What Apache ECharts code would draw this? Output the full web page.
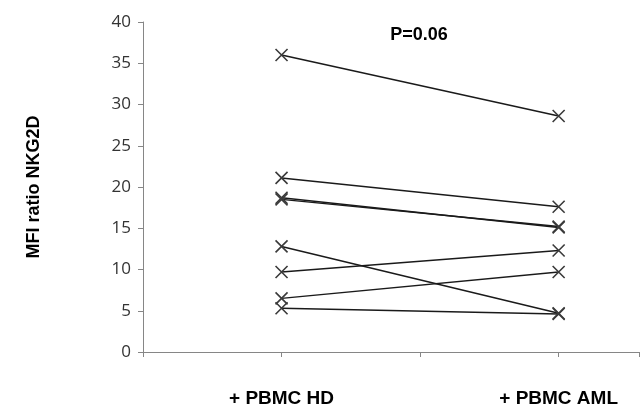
<!DOCTYPE html>
<html>
<head>
<meta charset="utf-8">
<script src="https://cdn.jsdelivr.net/npm/echarts@6/dist/echarts.min.js"></script>
<style>html,body{margin:0;padding:0;background:#fff}#c{width:642px;height:420px}</style>
</head>
<body>
<div id="c"></div>
<script>
var categories = ['+ PBMC HD', '+ PBMC AML'];
var categoryPos = [1, 3];
var hdValues  = [36.0, 21.1, 18.7, 18.5, 12.8, 9.7, 6.5, 5.3];
var amlValues = [28.6, 17.6, 15.1, 15.2, 4.7, 12.3, 9.7, 4.6];
var yTicks = [0, 5, 10, 15, 20, 25, 30, 35, 40];
var pLabel = 'P=0.06';
var yTitle = 'MFI ratio NKG2D';

var chart = echarts.init(document.getElementById('c'), null, {renderer: 'canvas'});
var series = hdValues.map(function (v, i) {
  return {
    type: 'line',
    data: [[categoryPos[0], v], [categoryPos[1], amlValues[i]]],
    symbol: 'path://M0,0L10,10M10,0L0,10',
    symbolSize: 12,
    showSymbol: true,
    lineStyle: {color: '#1a1a1a', width: 1.5},
    itemStyle: {color: 'transparent', borderColor: '#3a3a3a', borderWidth: 1.6},
    emphasis: {disabled: true},
    silent: true,
    z: 2
  };
});

chart.setOption({
  animation: false,
  backgroundColor: '#fff',
  title: {
    text: pLabel,
    left: 414, top: 21,
    textAlign: 'center',
    textStyle: {fontFamily: 'Liberation Sans', fontWeight: 'bold', fontSize: 18, color: '#000'}
  },
  grid: {left: 143, right: 0, top: 22, bottom: 68},
  xAxis: {
    type: 'value',
    min: 0, max: 3.58, interval: 1,
    splitLine: {show: false},
    axisLine: {lineStyle: {color: '#868686', width: 1}},
    axisTick: {length: 5, lineStyle: {color: '#868686'}},
    axisLabel: {
      margin: 37,
      fontFamily: 'Liberation Sans', fontWeight: 'bold', fontSize: 19, color: '#000',
      formatter: function (v) {
        var idx = categoryPos.indexOf(v);
        return idx >= 0 ? categories[idx] : '';
      }
    }
  },
  yAxis: {
    type: 'value',
    min: yTicks[0], max: yTicks[yTicks.length - 1], interval: 5,
    name: yTitle,
    nameLocation: 'middle',
    nameGap: 100,
    nameTextStyle: {fontFamily: 'Liberation Sans', fontWeight: 'bold', fontSize: 18, color: '#000'},
    splitLine: {show: false},
    axisLine: {show: true, lineStyle: {color: '#868686', width: 1}},
    axisTick: {show: true, length: 5, lineStyle: {color: '#868686'}},
    axisLabel: {margin: 12, fontFamily: 'Open Sans', fontSize: 17, color: '#333'}
  },
  series: series
});
</script>
</body>
</html>
